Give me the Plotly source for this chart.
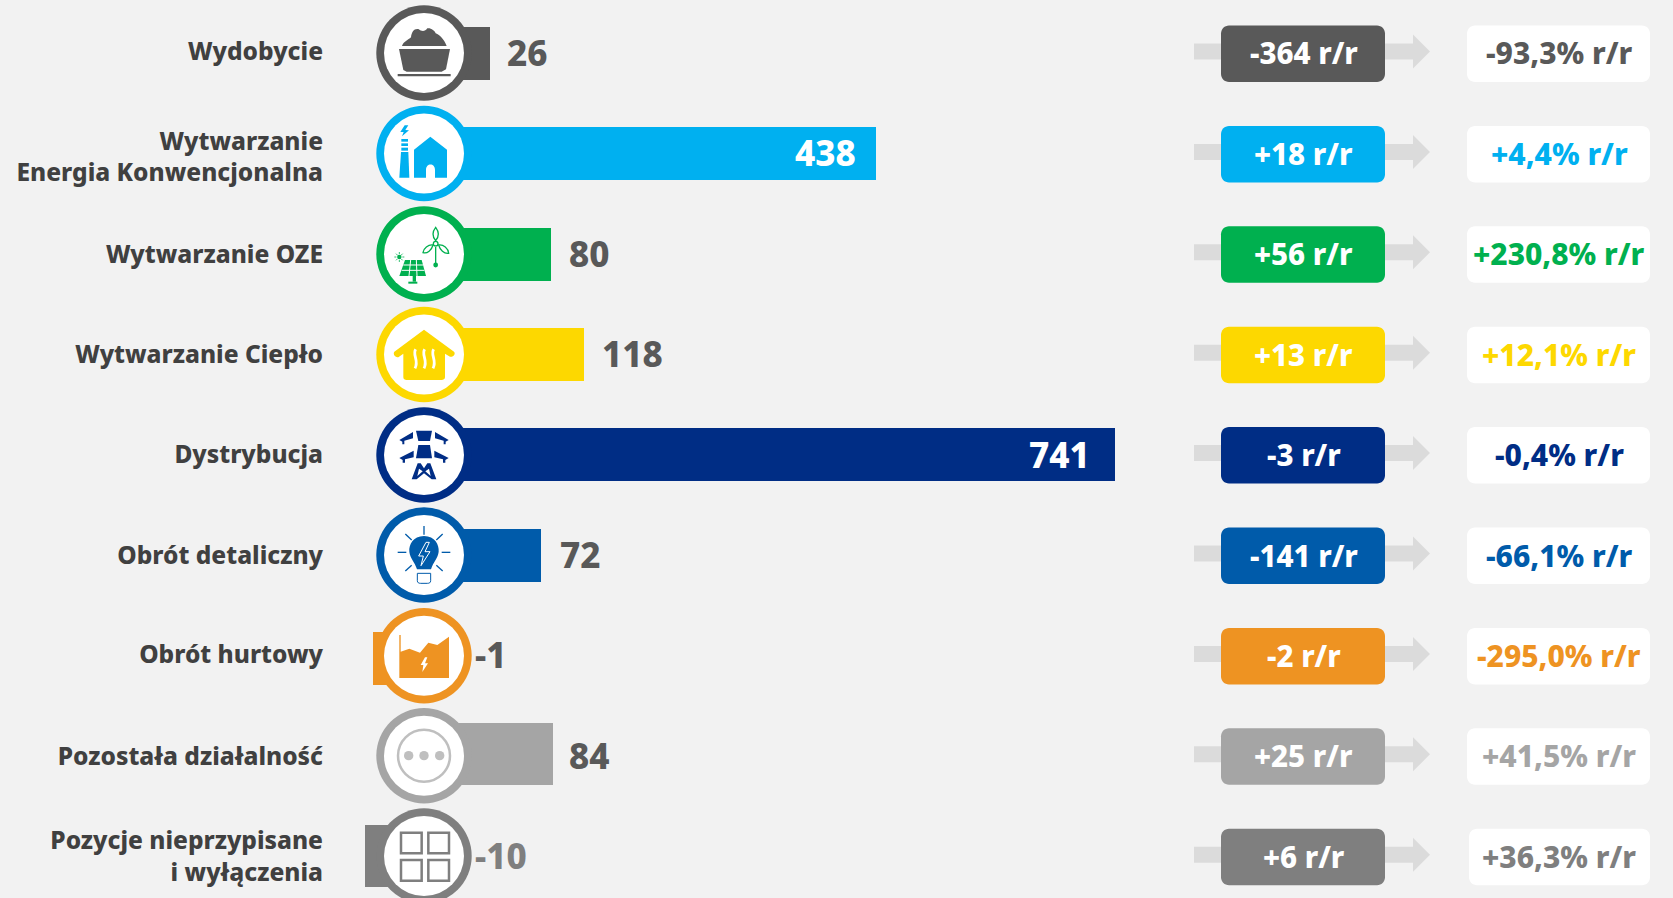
import re
import plotly.graph_objects as go

W, H = 1673, 898

categories = ["Wydobycie", "Wytwarzanie<br>Energia Konwencjonalna", "Wytwarzanie OZE", "Wytwarzanie Ciepło",
              "Dystrybucja", "Obrót detaliczny", "Obrót hurtowy", "Pozostała działalność",
              "Pozycje nieprzypisane<br>i wyłączenia"]
values = [26, 438, 80, 118, 741, 72, -1, 84, -10]
# The source infographic's bars are not to scale with their printed labels, so the
# lengths it actually draws are read separately, expressed in axis units.
drawn_lengths = [70.8, 484.7, 136.2, 171.6, 741, 125.5, -54.7, 138.3, -63.3]
change_abs = ["-364 r/r", "+18 r/r", "+56 r/r", "+13 r/r", "-3 r/r", "-141 r/r", "-2 r/r", "+25 r/r", "+6 r/r"]
change_pct = ["-93,3% r/r", "+4,4% r/r", "+230,8% r/r", "+12,1% r/r", "-0,4% r/r", "-66,1% r/r",
              "-295,0% r/r", "+41,5% r/r", "+36,3% r/r"]
colors = ["#595959", "#00B0F0", "#00B04F", "#FDD800", "#002D85", "#005BAA", "#EE9322", "#A5A5A5", "#7F7F7F"]

BG = "#F2F2F2"
FONT = "Noto Sans"
WEIGHT = 800
ROW0, PITCH = 53.5, 100.4
ZERO_PX, LEFT_PX, PX_PER_UNIT = 424, 330, 0.9325

row_px = [ROW0 + PITCH * i for i in range(9)]
px = lambda x: x / W
py = lambda y: 1 - y / H

widths = [0.528] * 7 + [0.6175, 0.6175]
offsets = [-0.264, -0.264, -0.264, -0.264, -0.27, -0.264, -0.238, -0.332, -0.316]
label_nudge_px = [-2, 3, 0, 0, -1, 0, -1, 0, 0]

fig = go.Figure(go.Bar(
    y=list(range(9)), x=drawn_lengths, orientation="h",
    width=widths, offset=offsets,
    marker=dict(color=colors, line_width=0), hoverinfo="skip",
))

shapes = []
annotations = []


def path_shape(d, fill=None, line=None, lw=0):
    """d holds absolute page pixels; converted to paper coordinates."""
    toks = re.findall(r"[MLCQZ]|-?\d+\.?\d*", d)
    out, isx = [], True
    for t in toks:
        if t in "MLCQZ":
            out.append(t)
            isx = True
        else:
            v = float(t)
            out.append(f"{px(v):.6f}" if isx else f"{py(v):.6f}")
            isx = not isx
    s = dict(type="path", xref="paper", yref="paper", path=" ".join(out), layer="above",
             line=dict(width=lw, color=line if line else "rgba(0,0,0,0)"))
    s["fillcolor"] = fill if fill else "rgba(0,0,0,0)"
    shapes.append(s)


def circle(cx, cy, r, fill, line=None, lw=0):
    shapes.append(dict(type="circle", xref="paper", yref="paper", layer="above",
                       x0=px(cx - r), x1=px(cx + r), y0=py(cy + r), y1=py(cy - r),
                       fillcolor=fill, line=dict(width=lw, color=line if line else "rgba(0,0,0,0)")))


def rrect(x0, y0, x1, y1, r, fill):
    k = r * 0.45
    d = (f"M {x0+r} {y0} L {x1-r} {y0} C {x1-k} {y0} {x1} {y0+k} {x1} {y0+r} "
         f"L {x1} {y1-r} C {x1} {y1-k} {x1-k} {y1} {x1-r} {y1} L {x0+r} {y1} "
         f"C {x0+k} {y1} {x0} {y1-k} {x0} {y1-r} L {x0} {y0+r} C {x0} {y0+k} {x0+k} {y0} {x0+r} {y0} Z")
    path_shape(d, fill=fill)


def crop(d, ox, oy):
    """Convert a path from 3x zoom-crop coordinates to page pixels."""
    toks = re.findall(r"[MLCQZ]|-?\d+\.?\d*", d)
    out, isx = [], True
    for t in toks:
        if t in "MLCQZ":
            out.append(t)
            isx = True
        else:
            v = float(t)
            out.append(f"{ox + v / 3:.2f}" if isx else f"{oy + v / 3:.2f}")
            isx = not isx
    return " ".join(out)


def rect3(x0, y0, x1, y1):
    return f"M {x0} {y0} L {x1} {y0} L {x1} {y1} L {x0} {y1} Z"


# ---- rings ----
ring_cy = [53, 153.5, 254, 354.5, 455, 555, 655.7, 755.7, 856]
for c, cy in zip(colors, ring_cy):
    circle(424, cy, 47.7, c)
    circle(424, cy, 40, "#FFFFFF")

O1 = (340, 0)
O2 = (340, 600)
O5 = (340, 300)
# coal cart
c = colors[0]
path_shape(crop("M186 138 C190 125 205 120 213 112 C215 95 222 85 235 87 C245 95 255 95 262 85 C272 83 285 92 287 100 C300 105 312 118 320 138 Z", *O1), fill=c)
path_shape(crop("M177 147 L330 147 L318 208 L305 215 L200 215 L190 210 Z", *O1), fill=c)
path_shape(crop(rect3(173, 222, 332, 229), *O1), fill=c)
# power plant + house
c = colors[1]
path_shape(crop("M194 376 L181 396 L191 396 L186 409 L207 391 L196 390 L205 376 Z", *O1), fill=c)
for a, b in [(417, 425), (430, 438), (443, 452)]:
    path_shape(crop(rect3(184, a, 204, b), *O1), fill=c)
path_shape(crop("M183 456 L205 456 L208 533 L178 533 Z", *O1), fill=c)
path_shape(crop("M271 410 L321 449 L321 533 L285 533 L285 510 C285 488 258 488 258 510 L258 533 L222 533 L222 449 Z", *O1), fill=c)
# wind + solar
c = colors[2]
for d in ["M287 682 C297 695 297 710 287 722 C277 710 277 695 287 682 Z",
          "M279 735 C265 733 250 745 249 758 C262 762 275 750 279 735 Z",
          "M296 735 C310 733 325 745 326 760 C312 762 300 750 296 735 Z",
          "M287 740 L287 790",
          "M280 731 C280 722 294 722 294 731 C294 740 280 740 280 731 Z"]:
    path_shape(crop(d, *O1), line=c, lw=1.3)
circle(340 + 287 / 3, 795 / 3, 2.4, c)
circle(340 + 178 / 3, 771 / 3, 2.2, c)
for d in ["M178 756 L178 762", "M178 780 L178 786", "M163 771 L169 771", "M187 771 L193 771",
          "M168 761 L172 765", "M184 777 L188 781", "M188 761 L184 765", "M172 777 L168 781"]:
    path_shape(crop(d, *O1), line=c, lw=0.8)
path_shape(crop("M195 780 L245 780 L258 828 L178 828 Z", *O1), fill=c)
for d in ["M190 795 L249 795", "M185 811 L253 811", "M212 780 L207 828", "M229 780 L231 828"]:
    path_shape(crop(d, *O1), line="#FFFFFF", lw=1)
path_shape(crop(rect3(218, 828, 228, 845), *O1), fill=c)
path_shape(crop(rect3(205, 845, 232, 851), *O1), fill=c)
# heat house
c = colors[3]
path_shape(crop("M252 89 L342 155 C348 162 340 172 330 170 L315 161 L315 232 C315 238 310 240 305 240 L200 240 C194 240 190 238 190 232 L190 161 L175 172 C165 172 158 162 163 155 Z", *O5), fill=c)
for dx in (0, 27, 54):
    path_shape(crop(f"M{228+dx-1} 148 C{216+dx} 165 {238+dx} 180 {226+dx-1} 205", *O5), line="#FFFFFF", lw=2.8)
# pylon
c = colors[4]
path_shape(crop("M228 392 L276 392 L270 423 L235 423 Z", *O5), fill=c)
path_shape(crop("M235 435 L270 435 L276 475 L228 475 Z", *O5), fill=c)
for pts in [[(219, 396), (219, 415), (193, 422), (193, 433), (187, 433), (187, 425), (178, 420)],
            [(221, 452), (221, 472), (195, 478), (195, 488), (188, 488), (188, 480), (178, 474)]]:
    for mir in (False, True):
        q = [((504 - x) if mir else x, y) for x, y in pts]
        path_shape(crop("M" + " L".join(f"{x} {y}" for x, y in q) + " Z", *O5), fill=c)
path_shape(crop("M233 490 L242 490 L252 505 L262 490 L271 490 L289 538 L275 538 L252 520 L230 538 L215 538 Z", *O5), fill=c)
path_shape(crop("M237 506 L248 514 L232 528 Z", *O5), fill="#FFFFFF")
path_shape(crop("M267 506 L256 514 L272 528 Z", *O5), fill="#FFFFFF")
# bulb
c = colors[5]
path_shape(crop("M252 708 C285 708 298 735 296 755 C294 775 280 785 273 808 L231 808 C224 785 210 775 208 755 C206 735 219 708 252 708 Z", *O5), fill=c)
path_shape(crop("M258 727 L236 768 L250 768 L243 797 L270 755 L255 755 L268 727 Z", *O5), line="#FFFFFF", lw=1)
path_shape(crop("M232 820 L272 820 L272 842 C272 848 268 850 262 850 L242 850 C236 850 232 848 232 842 Z", *O5), line=c, lw=1)
for d in ["M252 678 L252 704", "M196 702 L215 720", "M308 702 L289 720", "M173 757 L199 757", "M305 757 L331 757",
          "M196 813 L215 796", "M308 813 L289 796"]:
    path_shape(crop(d, *O5), line=c, lw=1.3)
# market chart
c = colors[6]
path_shape(crop("M178 105 L182 105 L182 155 L208 146 L240 158 L265 128 L292 135 L327 110 L327 234 L178 234 Z", *O2), fill=c)
path_shape(crop("M255 172 L242 195 L250 195 L247 216 L264 190 L255 190 L262 172 Z", *O2), fill="#FFFFFF")
# other (dots)
circle(424, 600 + 467 / 3, 26, "#FFFFFF", "#BFBFBF", 2.5)
for x in (206, 252, 299):
    circle(340 + x / 3, 600 + 467 / 3, 4.7, "#BFBFBF")
# unallocated (grid)
for x0, x1 in [(183, 245), (265, 327)]:
    for y0, y1 in [(698, 760), (780, 842)]:
        path_shape(crop(rect3(x0, y0, x1, y1), *O2), line=colors[8], lw=2.5)

# ---- right-hand side ----
white_left = [1467] * 8 + [1469]
for i, y in enumerate(row_px):
    ya = y - 2
    path_shape(f"M 1194 {ya-8} L 1413 {ya-8} L 1413 {ya-17} L 1430 {ya} L 1413 {ya+17} L 1413 {ya+8} L 1194 {ya+8} Z",
               fill="#DBDBDB")
    rrect(1221, y - 28, 1385, y + 28.5, 8, colors[i])
    rrect(white_left[i], y - 28, 1650, y + 28.5, 8, "#FFFFFF")
    annotations.append(dict(xref="paper", yref="paper", x=px(1303.5), y=py(y - 0.5), text=change_abs[i],
                            showarrow=False, xanchor="center", yanchor="middle",
                            font=dict(family=FONT, size=29.5, weight=WEIGHT, color="#FFFFFF")))
    annotations.append(dict(xref="paper", yref="paper", x=px(1559), y=py(y - 0.5), text=change_pct[i],
                            showarrow=False, xanchor="center", yanchor="middle",
                            font=dict(family=FONT, size=30, weight=WEIGHT, color=colors[i])))

# ---- value labels ----
label_colors = ["#595959"] * 8 + ["#7F7F7F"]
shift = [15, -18, 16, 16, -23, 17, 0, 14, 0]
for i, v in enumerate(values):
    inside = v > 400
    neg = v < 0
    annotations.append(dict(
        xref="x", yref="y", x=0 if neg else drawn_lengths[i], y=i,
        text=str(v), showarrow=False,
        xanchor="right" if inside else "left", yanchor="middle",
        xshift=49 if neg else shift[i], yshift=1,
        font=dict(family=FONT, size=35, weight=WEIGHT, color="#FFFFFF" if inside else label_colors[i]),
    ))

fig.update_layout(
    width=W, height=H, margin=dict(l=0, r=0, t=0, b=0, pad=0),
    paper_bgcolor=BG, plot_bgcolor=BG, showlegend=False, bargap=0,
    shapes=shapes, annotations=annotations,
    xaxis=dict(domain=[LEFT_PX / W, 1],
               range=[(LEFT_PX - ZERO_PX) / PX_PER_UNIT, (W - ZERO_PX) / PX_PER_UNIT],
               visible=False, fixedrange=True),
    yaxis=dict(domain=[0, 1], range=[(H - ROW0) / PITCH, -ROW0 / PITCH], tickmode="array",
               tickvals=[i + n / PITCH for i, n in enumerate(label_nudge_px)], ticktext=categories,
               showgrid=False, zeroline=False, showline=False, ticks="", ticklabelstandoff=6,
               tickfont=dict(family=FONT, size=24.5, weight=WEIGHT, color="#404040"), fixedrange=True),
)

fig.write_html("out.html", config=dict(displayModeBar=False),
               post_script="document.body.style.margin='0';document.body.style.background='#F2F2F2';document.documentElement.style.overflow='hidden';")
